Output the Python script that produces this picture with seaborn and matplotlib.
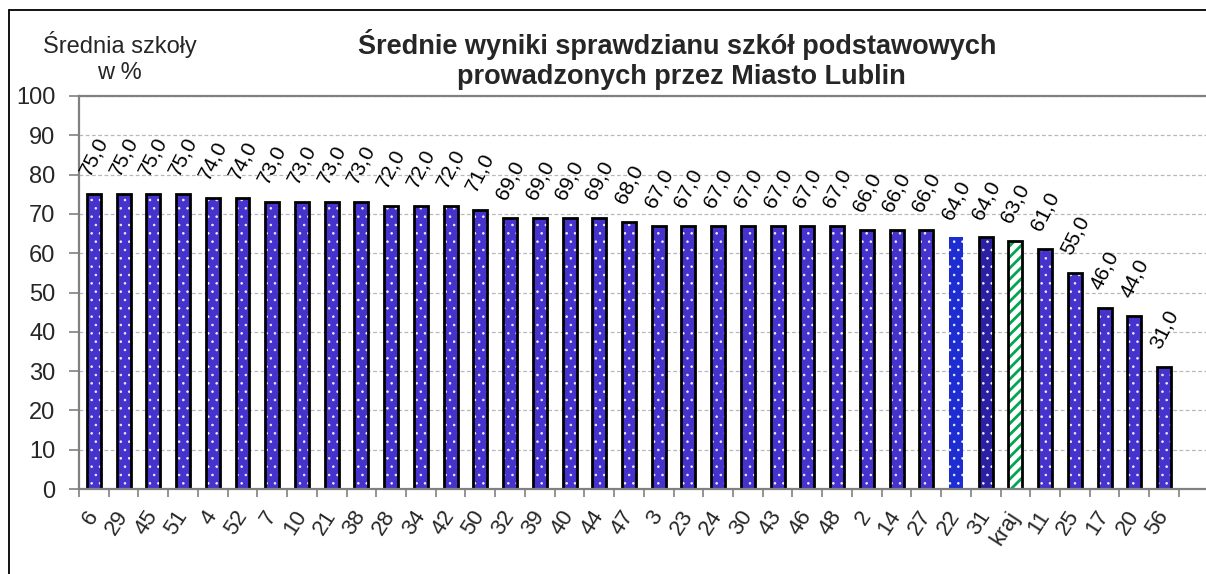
import matplotlib
matplotlib.use("Agg")
import matplotlib.pyplot as plt
from matplotlib.lines import Line2D
import seaborn as sns
import pandas as pd

# ---- data ----
schools = ["6", "29", "45", "51", "4", "52", "7", "10", "21", "38", "28", "34", "42",
           "50", "32", "39", "40", "44", "47", "3", "23", "24", "30", "43", "46", "48",
           "2", "14", "27", "22", "31", "kraj", "11", "25", "17", "20", "56"]
scores = [75, 75, 75, 75, 74, 74, 73, 73, 73, 73, 72, 72, 72,
          71, 69, 69, 69, 69, 68, 67, 67, 67, 67, 67, 67, 67,
          66, 66, 66, 64, 64, 63, 61, 55, 46, 44, 31]
title_lines = ["Średnie wyniki sprawdzianu szkół podstawowych",
               "prowadzonych przez Miasto Lublin"]
ylabel_lines = ["Średnia szkoły", "w %"]

# ---- styles ----
c_main = "#3318e6"
c_city = "#0014f0"
c_dark = "#1a0ab8"
c_green = "#00a650"
colors = []
for s in schools:
    if s == "22":
        colors.append(c_city)
    elif s == "31":
        colors.append(c_dark)
    elif s == "kraj":
        colors.append("white")
    else:
        colors.append(c_main)

df = pd.DataFrame({"school": schools, "score": scores})

sns.set_theme(style="white")
plt.rcParams["font.family"] = ["Liberation Sans", "DejaVu Sans"]
plt.rcParams["hatch.linewidth"] = 0.6

W, H = 1206, 574
fig = plt.figure(figsize=(W / 100, H / 100), dpi=100)
fig.patch.set_facecolor("white")
ax = fig.add_axes([79 / W, 1 - 489 / H, 1 - 79 / W, (489 - 96) / H])

# filled bars with pattern
sns.barplot(data=df, x="school", y="score", hue="school", order=schools,
            hue_order=schools, palette=colors, width=0.47, edgecolor="white",
            linewidth=0, legend=False, errorbar=None, ax=ax)
for s, p in zip(schools, list(ax.patches)):
    if s == "kraj":
        p.set_facecolor("white")
        p.set_edgecolor(c_green)
        p.set_hatch("///")
        if hasattr(p, "set_hatch_linewidth"):
            p.set_hatch_linewidth(2.0)
    else:
        p.set_edgecolor("#f0f0ff")
        p.set_hatch("..")
    p.set_linewidth(0)
n_fill = len(ax.patches)

# outlines
sns.barplot(data=df, x="school", y="score", order=schools, color="black",
            fill=False, width=0.47, linewidth=2.0, errorbar=None, ax=ax)
outline = list(ax.patches)[n_fill:]
for s, p in zip(schools, outline):
    p.set_hatch(None)
    p.set_edgecolor("black")
    p.set_linewidth(2.0)
    if s == "22":
        p.set_visible(False)

# value labels
cont = ax.containers[-1]
ax.bar_label(cont, fmt=lambda v: f"{v:.1f}".replace(".", ","), padding=11,
             rotation=63, fontsize=15, color="black")

# axes
ax.set_ylim(0, 100)
ax.set_yticks(range(0, 101, 10))
ax.set_xlim(-0.5, len(schools) - 0.5 + 0.91)
ax.set_xlabel("")
ax.set_ylabel("")
ax.yaxis.grid(True, linestyle=(0, (3, 2)), color="#b8b8b8", linewidth=0.9)
ax.set_axisbelow(True)
for side in ["left", "bottom", "top"]:
    ax.spines[side].set_color("#808080")
    ax.spines[side].set_linewidth(1.6)
ax.spines["right"].set_visible(False)

ax.tick_params(axis="y", which="major", direction="out", length=7, width=1.2,
               color="#808080", labelsize=17, pad=10, left=True)
ax.set_xticks(range(len(schools)))
ax.set_xticklabels(schools)
ax.set_xticks([i - 0.5 for i in range(len(schools) + 1)], minor=True)
ax.tick_params(axis="x", which="major", length=0, labelsize=16, pad=17, bottom=True)
ax.tick_params(axis="x", which="minor", direction="out", length=6, width=1.2,
               color="#808080", bottom=True)
for lbl in ax.get_xticklabels():
    lbl.set_rotation(57)
    lbl.set_rotation_mode("anchor")
    lbl.set_ha("right")
    lbl.set_va("center")

# titles
fig.text(677 / W, 1 - 45 / H, title_lines[0], ha="center", va="center",
         fontsize=19.5, fontweight="bold")
fig.text(681 / W, 1 - 77 / H, title_lines[1], ha="center", va="center",
         fontsize=19.5, fontweight="bold")
fig.text(120 / W, 1 - 45 / H, ylabel_lines[0], ha="center", va="center", fontsize=17)
fig.text(119 / W, 1 - 73 / H, ylabel_lines[1], ha="center", va="center", fontsize=17)

# outer frame (top and left edges visible)
fig.add_artist(Line2D([9 / W, 1.0], [1 - 10 / H, 1 - 10 / H],
                      transform=fig.transFigure, color="black", linewidth=1.3))
fig.add_artist(Line2D([9 / W, 9 / W], [0, 1 - 10 / H],
                      transform=fig.transFigure, color="black", linewidth=1.3))

fig.savefig("out.png", dpi=100, facecolor="white")
